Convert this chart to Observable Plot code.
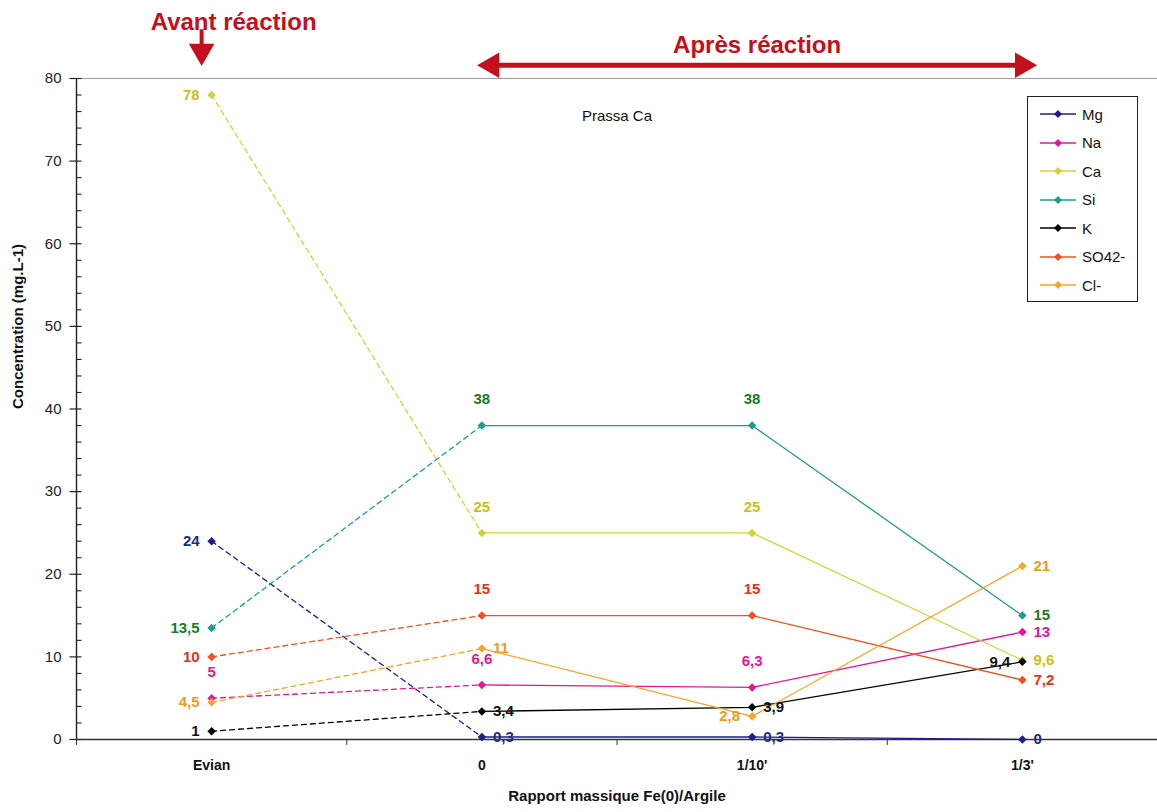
<!DOCTYPE html>
<html>
<head>
<meta charset="utf-8">
<script src="https://cdn.jsdelivr.net/npm/d3@7"></script>
<script src="https://cdn.jsdelivr.net/npm/@observablehq/plot@0.6"></script>
<style>
  body { margin: 0; background: #fff; font-family: "Liberation Sans", Arial, sans-serif; }
  #wrap { position: relative; width: 1157px; height: 812px; }
  #legend { position: absolute; left: 1027px; top: 96px; width: 111px; height: 206px;
    border: 1px solid #222; background: #fff; box-sizing: border-box; padding-top: 3px; }
  .li { display: flex; align-items: center; height: 28.5px; font-size: 15px; color: #111; }
  .li svg { margin-left: 12px; margin-right: 6px; }
</style>
</head>
<body>
<div id="wrap"></div>
<script>
// ---- data ----
const categories = ["Evian", "0", "1/10'", "1/3'"];
const seriesNames = ["Mg", "Na", "Ca", "Si", "K", "SO42-", "Cl-"];
const Mg   = [24, 0.3, 0.3, 0];
const Na   = [5, 6.6, 6.3, 13];
const Ca   = [78, 25, 25, 9.6];
const Si   = [13.5, 38, 38, 15];
const K    = [1, 3.4, 3.9, 9.4];
const SO4  = [10, 15, 15, 7.2];
const Cl   = [4.5, 11, 2.8, 21];
const seriesValues = [Mg, Na, Ca, Si, K, SO4, Cl];
const yMajorTicks = [0, 10, 20, 30, 40, 50, 60, 70, 80];

// ---- styles ----
const lineColors  = ["#1c1c8c", "#e0189a", "#d2d23c", "#1f9c8a", "#000000", "#f05020", "#f8a528"];
const labelColors = ["#1a2a8c", "#e0189a", "#c8c020", "#1a7a2a", "#111111", "#e8301a", "#f09a20"];
// label placement per series per category: L = left, R = right, A = above
const placement = {
  "Mg":    ["L", "R", "R", "R"],
  "Na":    ["A", "A", "A", "R"],
  "Ca":    ["L", "A", "A", "R"],
  "Si":    ["L", "A", "A", "R"],
  "K":     ["L", "R", "R", "L"],
  "SO42-": ["L", "A", "A", "R"],
  "Cl-":   ["L", "R", "L", "R"]
};
const red = "#c4101c";

const rows = [];
seriesNames.forEach((s, si) => {
  seriesValues[si].forEach((v, i) => {
    rows.push({series: s, si, i, cat: categories[i], value: v,
      label: String(v).replace(".", ","), place: placement[s][i]});
  });
});
const xc = d => d.i + 0.5;
const lab = d => labelColors[d.si];
const yMinor = d3.range(0, 81, 2).filter(v => v % 10 !== 0);
const yMax = yMajorTicks[yMajorTicks.length - 1];

// tick glyphs (horizontal strokes) for the y axis
const majorTick = {draw(ctx) { ctx.moveTo(-7, 0); ctx.lineTo(5, 0); }};
const minorTick = {draw(ctx) { ctx.moveTo(0, 0); ctx.lineTo(5, 0); }};

const plot = Plot.plot({
  width: 1157, height: 812,
  marginLeft: 76, marginRight: 0, marginTop: 78, marginBottom: 73,
  x: {domain: [0, categories.length], axis: null},
  y: {domain: [0, yMax], axis: null},
  color: {domain: seriesNames, range: lineColors},
  style: {fontFamily: "Liberation Sans, Arial, sans-serif", background: "#fff", overflow: "visible"},
  marks: [
    Plot.ruleY([yMax], {stroke: "#9a9aa6", strokeWidth: 1}),
    // y axis
    Plot.ruleX([0], {stroke: "#222", strokeWidth: 1.4}),
    Plot.dot(yMajorTicks, {x: 0, y: d => d, symbol: majorTick, stroke: "#222", strokeWidth: 1.2, fill: "none", r: 5}),
    Plot.dot(yMinor, {x: 0, y: d => d, symbol: minorTick, stroke: "#222", strokeWidth: 1.1, fill: "none", r: 5}),
    Plot.text(yMajorTicks, {x: 0, y: d => d, text: d => String(d), textAnchor: "end", dx: -15, fontSize: 15, fill: "#222"}),
    // x axis
    Plot.ruleY([0], {stroke: "#333", strokeWidth: 1.4}),
    Plot.axisX({ticks: d3.range(0, categories.length + 1), tickSize: 6, tickFormat: () => "", label: null, color: "#333", strokeOpacity: 1}),
    Plot.text(categories, {x: (d, i) => i + 0.5, y: 0, dy: 26, text: d => d, fontWeight: "bold", fontSize: 14, fill: "#111"}),
    Plot.text(["Rapport massique Fe(0)/Argile"], {frameAnchor: "bottom", dy: 61, fontWeight: "bold", fontSize: 15, fill: "#111"}),
    Plot.text(["Concentration (mg.L-1)"], {frameAnchor: "left", dx: -58, rotate: -90, fontWeight: "bold", fontSize: 15, fill: "#111"}),
    Plot.text(["Prassa Ca"], {frameAnchor: "top", dy: 32, fontSize: 15, fill: "#111"}),
    // lines
    Plot.line(rows.filter(d => d.i <= 1), {x: xc, y: "value", z: "series", stroke: "series", strokeWidth: 1.3, strokeDasharray: "5,4"}),
    Plot.line(rows.filter(d => d.i >= 1), {x: xc, y: "value", z: "series", stroke: "series", strokeWidth: 1.3}),
    Plot.dot(rows, {x: xc, y: "value", fill: "series", symbol: "square", rotate: 45, r: 3.4}),
    // value labels
    Plot.text(rows.filter(d => d.place === "L"), {x: xc, y: "value", text: "label", fill: lab, textAnchor: "end", dx: -12, fontWeight: "bold", fontSize: 15}),
    Plot.text(rows.filter(d => d.place === "R"), {x: xc, y: "value", text: "label", fill: lab, textAnchor: "start", dx: 11, fontWeight: "bold", fontSize: 15}),
    Plot.text(rows.filter(d => d.place === "A"), {x: xc, y: "value", text: "label", fill: lab, dy: -26, fontWeight: "bold", fontSize: 15}),
    // annotations
    Plot.text(["Avant réaction"], {x: 0.5, y: 86.8, dx: 22, fontWeight: "bold", fontSize: 24, fill: red}),
    Plot.ruleX([0.5], {y1: 85.9, y2: 83.2, dx: -10, stroke: red, strokeWidth: 4}),
    Plot.dot([0.5], {x: d => d, y: 83.3, dx: -10, symbol: "triangle", rotate: 180, r: 9.5, fill: red}),
    Plot.text(["Après réaction"], {x: 2.5, y: 84.0, dx: 5, fontWeight: "bold", fontSize: 24, fill: red}),
    Plot.ruleY([81.6], {x1: 1.5, x2: 3.5, insetLeft: 8, stroke: red, strokeWidth: 5}),
    Plot.dot([1.5], {x: d => d, y: 81.6, dx: 10, symbol: "triangle", rotate: -90, r: 9.5, fill: red}),
    Plot.dot([3.5], {x: d => d, y: 81.6, symbol: "triangle", rotate: 90, r: 9.5, fill: red})
  ]
});

const wrap = document.getElementById("wrap");
wrap.appendChild(plot);

// legend
const leg = document.createElement("div");
leg.id = "legend";
seriesNames.forEach((s, i) => {
  const item = document.createElement("div");
  item.className = "li";
  item.innerHTML = `<svg width="36" height="10"><line x1="0" y1="5" x2="36" y2="5" stroke="${lineColors[i]}" stroke-width="1.5"/>` +
    `<path d="M18,1 L22,5 L18,9 L14,5 Z" fill="${lineColors[i]}"/></svg><span>${s}</span>`;
  leg.appendChild(item);
});
wrap.appendChild(leg);
</script>
</body>
</html>
